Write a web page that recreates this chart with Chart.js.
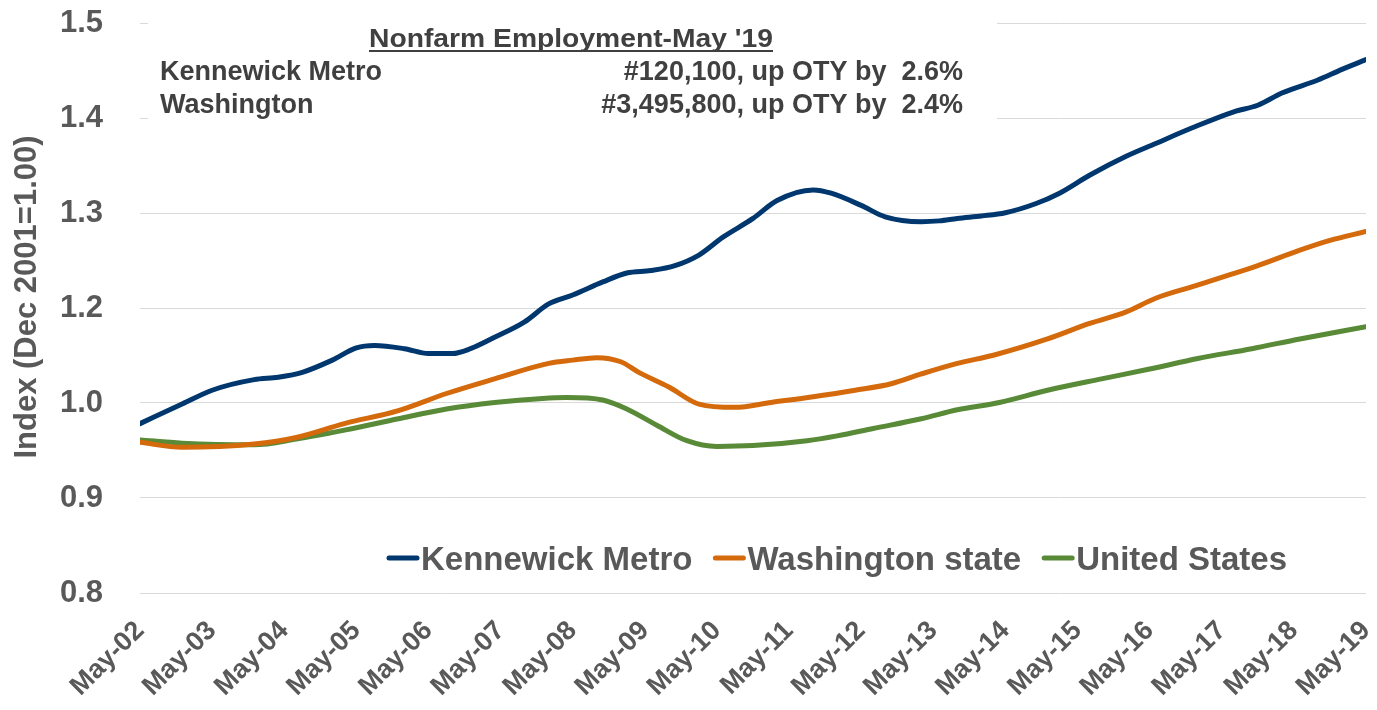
<!DOCTYPE html>
<html>
<head>
<meta charset="utf-8">
<script src="https://cdn.jsdelivr.net/npm/chart.js@4/dist/chart.umd.min.js"></script>
<style>
  html, body { margin: 0; padding: 0; background: #ffffff; }
  #wrap { width: 1377px; height: 710px; position: relative; }
</style>
</head>
<body>
<div id="wrap"><canvas id="c" width="1377" height="710"></canvas></div>
<script>
// ---------------- DATA ----------------
const xTickLabels = ['May-02','May-03','May-04','May-05','May-06','May-07','May-08','May-09','May-10',
                     'May-11','May-12','May-13','May-14','May-15','May-16','May-17','May-18','May-19'];
const yTickLabels = ['0.8','0.9','1.0','1.2','1.3','1.4','1.5'];
const yMin = 0.8, yMax = 1.5;

// months since May 2002
const kennewickMonths = [0,7,12,19,23,27,32,36,39,44,48,52,55,59,64,68,72,77,81,85,89,93,97,102,106,112,115,120,124,130,133,136,140,144,149,153,158,164,169,175,182,186,190,196,200,204];
const kennewickValues = [1.008,1.032,1.049,1.062,1.065,1.071,1.086,1.101,1.104,1.100,1.094,1.094,1.100,1.114,1.133,1.155,1.166,1.182,1.193,1.196,1.202,1.215,1.237,1.260,1.282,1.295,1.291,1.276,1.262,1.256,1.257,1.260,1.263,1.267,1.278,1.291,1.313,1.336,1.352,1.371,1.391,1.399,1.414,1.430,1.443,1.455];

const washingtonMonths = [0,7,19,26,34,43,51,59,68,72,76,80,83,88,93,99,105,112,119,125,130,136,142,151,158,164,169,175,181,186,193,198,204];
const washingtonValues = [0.985,0.979,0.983,0.991,1.008,1.024,1.045,1.063,1.082,1.086,1.089,1.084,1.071,1.053,1.032,1.028,1.034,1.041,1.049,1.057,1.069,1.082,1.092,1.112,1.131,1.145,1.162,1.176,1.190,1.202,1.221,1.233,1.244];

const usMonths = [0,7,19,26,34,43,51,59,67,71,77,81,86,91,96,102,111,116,122,130,136,143,151,160,168,176,185,193,204];
const usValues = [0.988,0.984,0.982,0.989,1.000,1.014,1.026,1.034,1.039,1.040,1.037,1.026,1.006,0.987,0.980,0.981,0.987,0.993,1.002,1.014,1.025,1.034,1.049,1.063,1.075,1.088,1.100,1.112,1.127];

const seriesNames = ['Kennewick Metro', 'Washington state', 'United States'];
const seriesColors = ['#00376E', '#D46A0C', '#588A37'];

const annoTitle = "Nonfarm Employment-May '19";
const annoRows = [
  ['Kennewick Metro', '#120,100, up OTY by  2.6%'],
  ['Washington', '#3,495,800, up OTY by  2.4%']
];
const yTitle = 'Index (Dec 2001=1.00)';

// --------------- CHART ----------------
const FONT = "'Liberation Sans', Arial, sans-serif";
const GRAY = '#595959';
const DARK = '#404040';

function pts(ms, vs) { return ms.map((m, i) => ({ x: m, y: vs[i] })); }

const yTickValues = yTickLabels.map((_, i) => yMin + i * (yMax - yMin) / (yTickLabels.length - 1));

function zeroPad(scale) {
  scale.paddingTop = 0; scale.paddingBottom = 0;
  scale.paddingLeft = 0; scale.paddingRight = 0;
}

const annotationPlugin = {
  id: 'annotation',
  beforeDatasetsDraw(chart) {
    const ctx = chart.ctx;
    ctx.save();
    // white box behind the text block
    ctx.fillStyle = '#ffffff';
    ctx.fillRect(148, 12, 849, 114);
    ctx.fillStyle = DARK;
    ctx.textBaseline = 'alphabetic';
    // title (underlined)
    ctx.font = 'bold 26px ' + FONT;
    const w = ctx.measureText(annoTitle).width;
    const tx = 369, tw = 404, ty = 47;
    ctx.save();
    ctx.translate(tx, ty);
    ctx.scale(tw / w, 1);
    ctx.textAlign = 'left';
    ctx.fillText(annoTitle, 0, 0);
    ctx.restore();
    ctx.fillRect(tx, ty + 3, tw, 2);
    // rows
    ctx.font = 'bold 27px ' + FONT;
    annoRows.forEach((r, i) => {
      const y = 80 + i * 33;
      ctx.textAlign = 'left';
      ctx.fillText(r[0], 160, y);
      ctx.textAlign = 'right';
      ctx.fillText(r[1], 963, y);
    });
    ctx.restore();
  },
  afterDatasetsDraw(chart) {
    const ctx = chart.ctx;
    ctx.save();
    // legend
    ctx.font = 'bold 33px ' + FONT;
    ctx.textBaseline = 'alphabetic';
    ctx.textAlign = 'left';
    let x = 389;
    const yLine = 558, yText = 570;
    chart.data.datasets.forEach((ds) => {
      ctx.strokeStyle = ds.borderColor;
      ctx.lineWidth = 5;
      ctx.lineCap = 'round';
      ctx.beginPath();
      ctx.moveTo(x, yLine);
      ctx.lineTo(x + 28, yLine);
      ctx.stroke();
      x += 32;
      ctx.fillStyle = GRAY;
      ctx.fillText(ds.label, x, yText);
      x += ctx.measureText(ds.label).width + 23;
    });
    // y-axis title
    ctx.translate(27, 297);
    ctx.rotate(-Math.PI / 2);
    ctx.textAlign = 'center';
    ctx.textBaseline = 'middle';
    ctx.font = 'bold 31px ' + FONT;
    ctx.fillStyle = GRAY;
    ctx.fillText(yTitle, 0, 0);
    ctx.restore();
  }
};

new Chart(document.getElementById('c'), {
  type: 'line',
  data: {
    datasets: [
      { label: seriesNames[0], data: pts(kennewickMonths, kennewickValues) },
      { label: seriesNames[1], data: pts(washingtonMonths, washingtonValues) },
      { label: seriesNames[2], data: pts(usMonths, usValues) }
    ].map((d, i) => Object.assign(d, {
      borderColor: seriesColors[i],
      backgroundColor: seriesColors[i],
      borderWidth: 5,
      pointRadius: 0,
      fill: false,
      cubicInterpolationMode: 'monotone',
      borderCapStyle: 'round',
      borderJoinStyle: 'round'
    }))
  },
  options: {
    responsive: false,
    animation: false,
    events: [],
    layout: { padding: { left: 0, right: 11, top: 23, bottom: 0 } },
    plugins: { legend: { display: false }, tooltip: { enabled: false }, title: { display: false } },
    scales: {
      x: {
        type: 'linear',
        min: 0, max: 204,
        afterBuildTicks(scale) {
          scale.ticks = xTickLabels.map((_, i) => ({ value: i * 12 }));
        },
        afterFit(scale) { scale.height = 117; zeroPad(scale); },
        grid: { display: false, drawTicks: false },
        border: { display: false },
        ticks: {
          autoSkip: false,
          minRotation: 45, maxRotation: 45,
          padding: 22,
          color: GRAY,
          font: { family: FONT, size: 27, weight: 'bold' },
          callback: (v) => xTickLabels[Math.round(v / 12)]
        }
      },
      y: {
        min: yMin, max: yMax,
        afterBuildTicks(scale) {
          scale.ticks = yTickValues.map(v => ({ value: v }));
        },
        afterFit(scale) { scale.width = 140; zeroPad(scale); },
        grid: { color: '#D9D9D9', lineWidth: 1, drawTicks: false },
        border: { display: false },
        ticks: {
          padding: 37,
          color: GRAY,
          font: { family: FONT, size: 31, weight: 'bold' },
          callback: (v, i) => yTickLabels[i]
        }
      }
    }
  },
  plugins: [annotationPlugin]
});
</script>
</body>
</html>
